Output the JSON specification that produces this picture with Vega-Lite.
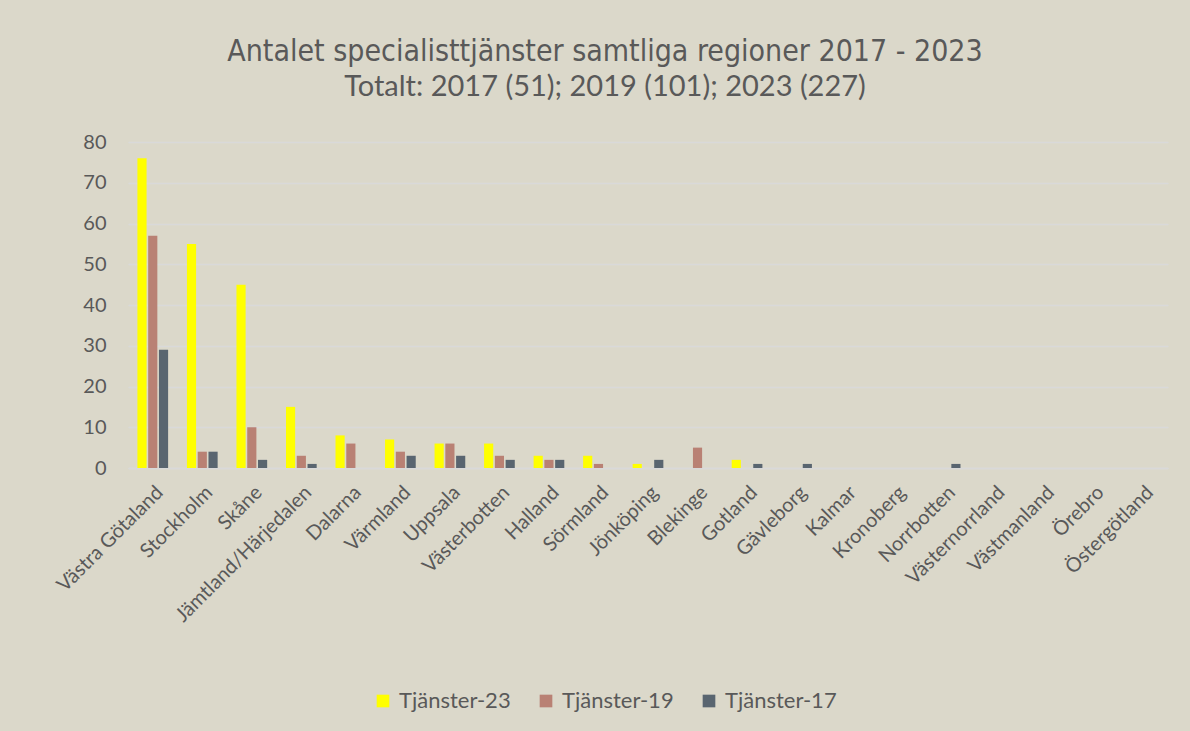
{
  "$schema": "https://vega.github.io/schema/vega-lite/v6.json",
  "width": 1040,
  "height": 326,
  "autosize": "none",
  "padding": {"left": 128, "top": 142, "right": 22, "bottom": 263},
  "background": "#DBD8CA",
  "title": {
    "text": "Antalet specialisttjänster samtliga regioner  2017 - 2023",
    "subtitle": "Totalt: 2017 (51); 2019 (101); 2023 (227)",
    "anchor": "middle",
    "dx": -43,
    "offset": 30,
    "font": "DejaVu Sans Condensed, Lato",
    "fontSize": 30,
    "fontWeight": "normal",
    "color": "#595959",
    "subtitleFont": "Lato",
    "subtitleFontSize": 29,
    "subtitleColor": "#595959",
    "subtitlePadding": 6
  },
  "data": {
    "values": [
      {"region": "Västra Götaland", "serie": "Tjänster-23", "antal": 76},
      {"region": "Västra Götaland", "serie": "Tjänster-19", "antal": 57},
      {"region": "Västra Götaland", "serie": "Tjänster-17", "antal": 29},
      {"region": "Stockholm", "serie": "Tjänster-23", "antal": 55},
      {"region": "Stockholm", "serie": "Tjänster-19", "antal": 4},
      {"region": "Stockholm", "serie": "Tjänster-17", "antal": 4},
      {"region": "Skåne", "serie": "Tjänster-23", "antal": 45},
      {"region": "Skåne", "serie": "Tjänster-19", "antal": 10},
      {"region": "Skåne", "serie": "Tjänster-17", "antal": 2},
      {"region": "Jämtland/Härjedalen", "serie": "Tjänster-23", "antal": 15},
      {"region": "Jämtland/Härjedalen", "serie": "Tjänster-19", "antal": 3},
      {"region": "Jämtland/Härjedalen", "serie": "Tjänster-17", "antal": 1},
      {"region": "Dalarna", "serie": "Tjänster-23", "antal": 8},
      {"region": "Dalarna", "serie": "Tjänster-19", "antal": 6},
      {"region": "Dalarna", "serie": "Tjänster-17", "antal": 0},
      {"region": "Värmland", "serie": "Tjänster-23", "antal": 7},
      {"region": "Värmland", "serie": "Tjänster-19", "antal": 4},
      {"region": "Värmland", "serie": "Tjänster-17", "antal": 3},
      {"region": "Uppsala", "serie": "Tjänster-23", "antal": 6},
      {"region": "Uppsala", "serie": "Tjänster-19", "antal": 6},
      {"region": "Uppsala", "serie": "Tjänster-17", "antal": 3},
      {"region": "Västerbotten", "serie": "Tjänster-23", "antal": 6},
      {"region": "Västerbotten", "serie": "Tjänster-19", "antal": 3},
      {"region": "Västerbotten", "serie": "Tjänster-17", "antal": 2},
      {"region": "Halland", "serie": "Tjänster-23", "antal": 3},
      {"region": "Halland", "serie": "Tjänster-19", "antal": 2},
      {"region": "Halland", "serie": "Tjänster-17", "antal": 2},
      {"region": "Sörmland", "serie": "Tjänster-23", "antal": 3},
      {"region": "Sörmland", "serie": "Tjänster-19", "antal": 1},
      {"region": "Sörmland", "serie": "Tjänster-17", "antal": 0},
      {"region": "Jönköping", "serie": "Tjänster-23", "antal": 1},
      {"region": "Jönköping", "serie": "Tjänster-19", "antal": 0},
      {"region": "Jönköping", "serie": "Tjänster-17", "antal": 2},
      {"region": "Blekinge", "serie": "Tjänster-23", "antal": 0},
      {"region": "Blekinge", "serie": "Tjänster-19", "antal": 5},
      {"region": "Blekinge", "serie": "Tjänster-17", "antal": 0},
      {"region": "Gotland", "serie": "Tjänster-23", "antal": 2},
      {"region": "Gotland", "serie": "Tjänster-19", "antal": 0},
      {"region": "Gotland", "serie": "Tjänster-17", "antal": 1},
      {"region": "Gävleborg", "serie": "Tjänster-23", "antal": 0},
      {"region": "Gävleborg", "serie": "Tjänster-19", "antal": 0},
      {"region": "Gävleborg", "serie": "Tjänster-17", "antal": 1},
      {"region": "Kalmar", "serie": "Tjänster-23", "antal": 0},
      {"region": "Kalmar", "serie": "Tjänster-19", "antal": 0},
      {"region": "Kalmar", "serie": "Tjänster-17", "antal": 0},
      {"region": "Kronoberg", "serie": "Tjänster-23", "antal": 0},
      {"region": "Kronoberg", "serie": "Tjänster-19", "antal": 0},
      {"region": "Kronoberg", "serie": "Tjänster-17", "antal": 0},
      {"region": "Norrbotten", "serie": "Tjänster-23", "antal": 0},
      {"region": "Norrbotten", "serie": "Tjänster-19", "antal": 0},
      {"region": "Norrbotten", "serie": "Tjänster-17", "antal": 1},
      {"region": "Västernorrland", "serie": "Tjänster-23", "antal": 0},
      {"region": "Västernorrland", "serie": "Tjänster-19", "antal": 0},
      {"region": "Västernorrland", "serie": "Tjänster-17", "antal": 0},
      {"region": "Västmanland", "serie": "Tjänster-23", "antal": 0},
      {"region": "Västmanland", "serie": "Tjänster-19", "antal": 0},
      {"region": "Västmanland", "serie": "Tjänster-17", "antal": 0},
      {"region": "Örebro", "serie": "Tjänster-23", "antal": 0},
      {"region": "Örebro", "serie": "Tjänster-19", "antal": 0},
      {"region": "Örebro", "serie": "Tjänster-17", "antal": 0},
      {"region": "Östergötland", "serie": "Tjänster-23", "antal": 0},
      {"region": "Östergötland", "serie": "Tjänster-19", "antal": 0},
      {"region": "Östergötland", "serie": "Tjänster-17", "antal": 0}
    ]
  },
  "mark": {"type": "bar"},
  "encoding": {
    "x": {
      "field": "region",
      "type": "nominal",
      "sort": null,
      "title": null,
      "scale": {"paddingInner": 0.38, "paddingOuter": 0.19},
      "axis": {
        "labelAngle": -45,
        "labelAlign": "right",
        "labelBaseline": "top",
        "labelFont": "Lato",
        "labelFontSize": 20,
        "labelColor": "#595959",
        "labelPadding": 14,
        "ticks": false,
        "domain": true,
        "domainColor": "#D9D9D9",
        "domainWidth": 1.5,
        "labelLimit": 300
      }
    },
    "xOffset": {
      "field": "serie",
      "type": "nominal",
      "sort": ["Tjänster-23", "Tjänster-19", "Tjänster-17"],
      "scale": {"paddingInner": 0.15}
    },
    "y": {
      "field": "antal",
      "type": "quantitative",
      "title": null,
      "scale": {"domain": [0, 80]},
      "axis": {
        "values": [0, 10, 20, 30, 40, 50, 60, 70, 80],
        "labelFont": "Lato",
        "labelFontSize": 20,
        "labelColor": "#595959",
        "labelPadding": 22,
        "ticks": false,
        "domain": false,
        "grid": true,
        "gridColor": "#D9D9D9",
        "gridWidth": 1.5
      }
    },
    "color": {
      "field": "serie",
      "type": "nominal",
      "sort": ["Tjänster-23", "Tjänster-19", "Tjänster-17"],
      "scale": {
        "domain": ["Tjänster-23", "Tjänster-19", "Tjänster-17"],
        "range": ["#FFFF00", "#B98174", "#596570"]
      },
      "legend": {
        "title": null,
        "orient": "none",
        "direction": "horizontal",
        "legendX": 244,
        "legendY": 548,
        "symbolType": "square",
        "symbolSize": 160,
        "symbolStrokeWidth": 0,
        "labelFont": "Lato",
        "labelFontSize": 22,
        "labelColor": "#595959",
        "labelOffset": 5,
        "columnPadding": 24
      }
    }
  },
  "config": {
    "view": {"stroke": null}
  }
}
